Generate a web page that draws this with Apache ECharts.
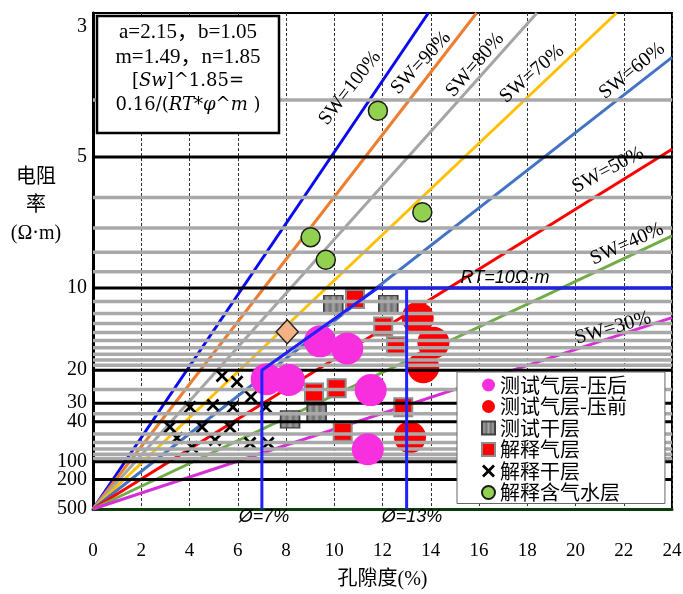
<!DOCTYPE html>
<html><head><meta charset="utf-8">
<script src="https://cdn.jsdelivr.net/npm/echarts@6/dist/echarts.min.js"></script>
<style>html,body{margin:0;padding:0;background:#fff}#c{width:683px;height:594px}</style>
</head><body><div id="c"></div>
<script>
// ---- data ----
const M = 1.49;                       // cementation exponent used for the axis scale
const yTicks = [3, 5, 10, 20, 30, 40, 100, 200, 500];
const majorRt = [5, 10, 20, 30, 40, 100, 200];
const minorRt = [4, 6, 7, 8, 9, 11, 12, 13, 14, 15, 16, 17, 18, 19, 25, 35, 50, 60, 70, 80, 90];

const swNames  = ['SW=100%', 'SW=90%', 'SW=80%', 'SW=70%', 'SW=60%', 'SW=50%', 'SW=40%', 'SW=30%'];
const swEndPhi = [13.9, 15.9, 18.4, 21.7, 24, 24, 24, 24];
const swEndRt  = [3, 3, 3, 3, 3.45, 4.84, 7.3, 12.4];

const cutoffPhi  = [7, 7, 11.8, 24];
const cutoffRt   = [500, 20, 10, 10];
const cutoff2Phi = [13, 13];
const cutoff2Rt  = [10, 500];

const magentaPhi = [9.41, 10.54, 7.2, 8.12, 11.51, 11.39];
const magentaRt  = [15.1, 16.1, 22.1, 22.3, 25.2, 70.3];
const redPhi = [13.46, 14.11, 13.69, 13.14];
const redRt  = [12.4, 15.3, 19.4, 53.5];
const grayPhi = [9.96, 12.24, 8.17, 9.27];
const grayRt  = [11.2, 11.2, 38.4, 34.8];
const redSqPhi = [10.86, 12.03, 12.56, 9.16, 10.1, 12.86, 10.35];
const redSqRt  = [10.8, 13.3, 15.8, 26.0, 24.6, 31.8, 47.8];
const crossPhi = [5.35, 5.97, 6.55, 4.02, 4.97, 5.80, 7.17, 3.19, 4.52, 5.68, 3.48, 5.06, 6.51, 7.26, 4.10];
const crossRt  = [21.3, 22.8, 27.5, 31.7, 30.8, 31.7, 31.7, 43.8, 43.8, 43.8, 54.3, 56.7, 60.6, 60.6, 66.5];
const greenPhi = [11.81, 13.65, 9.02, 9.65];
const greenRt  = [4.16, 6.45, 7.35, 8.37];
const diamondPhi = [8.05];
const diamondRt  = [13.9];

const legendNames = ['测试气层-压后', '测试气层-压前', '测试干层', '解释气层', '解释干层', '解释含气水层'];

// ---- helpers ----
const yv = r => (r >= 500 ? 0 : Math.pow(r, -1 / M));
const pts = (xs, rs) => xs.map((x, i) => [x, yv(rs[i])]);
const serif = "'Liberation Serif','Noto Sans CJK SC'";
const swColors = ['#0a0af0', '#ed7d31', '#a5a5a5', '#ffc000', '#4472c4', '#ff0000', '#70ad47', '#d62fd6'];

const series = [];
swNames.forEach((n, i) => {
  series.push({type: 'line', name: n, data: [[0, yv(500)], [swEndPhi[i], yv(swEndRt[i])]],
    symbol: 'none', silent: true, z: 2, lineStyle: {color: swColors[i], width: 3}});
});
series.push({type: 'scatter', name: legendNames[1], data: pts(redPhi, redRt), symbol: 'circle', symbolSize: 32, z: 3,
  itemStyle: {color: '#ff0000', opacity: 1}});
series.push({type: 'scatter', name: legendNames[2], data: pts(grayPhi, grayRt), symbol: 'rect', symbolSize: [19, 17], z: 3,
  itemStyle: {opacity: 1, color: {type: 'linear', x: 0, y: 0, x2: 1, y2: 0, colorStops: [
    {offset: 0, color: '#6a6a6a'}, {offset: 0.2, color: '#9a9a9a'}, {offset: 0.35, color: '#707070'},
    {offset: 0.5, color: '#a8a8a8'}, {offset: 0.65, color: '#707070'}, {offset: 0.8, color: '#9a9a9a'}, {offset: 1, color: '#6a6a6a'}]},
    borderColor: '#404040', borderWidth: 1.5}});
series.push({type: 'scatter', name: legendNames[3], data: pts(redSqPhi, redSqRt), symbol: 'rect', symbolSize: 18, z: 3,
  itemStyle: {color: '#ff0000', borderColor: '#8c8c8c', borderWidth: 2, opacity: 1}});
series.push({type: 'scatter', name: legendNames[4], data: pts(crossPhi, crossRt), z: 3,
  symbol: 'path://M1.5,0L5,3.5L8.5,0L10,1.5L6.5,5L10,8.5L8.5,10L5,6.5L1.5,10L0,8.5L3.5,5L0,1.5Z', symbolSize: 13,
  itemStyle: {color: '#000', opacity: 1}});
minorRt.forEach(r => series.push({type: 'line', data: [[0, yv(r)], [24, yv(r)]], symbol: 'none', silent: true, z: 4,
  lineStyle: {color: '#a9a9a9', width: 3.5}}));
majorRt.forEach(r => series.push({type: 'line', data: [[0, yv(r)], [24, yv(r)]], symbol: 'none', silent: true, z: 5,
  lineStyle: {color: '#000', width: 3}}));
series.push({type: 'scatter', name: legendNames[0], data: pts(magentaPhi, magentaRt), symbol: 'circle', symbolSize: 32, z: 6,
  itemStyle: {color: '#f82fdf', opacity: 1}});
series.push({type: 'scatter', name: legendNames[5], data: pts(greenPhi, greenRt), symbol: 'circle', symbolSize: 19, z: 6,
  itemStyle: {color: '#92d050', borderColor: '#1a1a1a', borderWidth: 1.5, opacity: 1}});
series.push({type: 'scatter', name: 'diamond', data: pts(diamondPhi, diamondRt), symbol: 'diamond', symbolSize: [22, 24], z: 6,
  itemStyle: {color: '#f4b183', borderColor: '#222', borderWidth: 1.5, opacity: 1}});
series.push({type: 'line', data: pts(cutoffPhi, cutoffRt), symbol: 'none', silent: true, z: 7, lineStyle: {color: '#2020ff', width: 3}});
series.push({type: 'line', data: pts(cutoff2Phi, cutoff2Rt), symbol: 'none', silent: true, z: 7, lineStyle: {color: '#2020ff', width: 3}});

// ---- text graphics ----
const txt = (text, x, y, o) => Object.assign({type: 'text', x, y, z: 50, silent: true,
  style: Object.assign({text, fill: '#000', fontSize: 20, fontFamily: serif,
    align: 'center', verticalAlign: 'middle', textAlign: 'center', textVerticalAlign: 'middle'}, o || {})});
const swLabelPos = [[350, 88, 52], [421, 63, 47], [475, 65, 49], [532, 74, 41], [632, 71, 39], [608, 170, 28], [627, 244, 24], [613, 328, 16]];
const graphic = [];
swNames.forEach((n, i) => {
  const g = txt(n, swLabelPos[i][0], swLabelPos[i][1]);
  g.rotation = swLabelPos[i][2] * Math.PI / 180;
  graphic.push(g);
});
graphic.push(txt('电阻\n率\n(Ω·m)', 36, 206, {lineHeight: 28}));
graphic.push(txt('RT=10Ω·m', 505, 278, {fontSize: 18, fontStyle: 'italic', fontFamily: "'Liberation Sans'"}));
graphic.push(txt('Ø=7%', 264, 517, {fontSize: 18, fontStyle: 'italic', fontFamily: "'Liberation Sans'"}));
graphic.push(txt('Ø=13%', 412, 517, {fontSize: 18, fontStyle: 'italic', fontFamily: "'Liberation Sans'"}));
const mathRich = {
  n: {fontSize: 18, fontFamily: "'DejaVu Serif'", fill: '#000', color: '#000'},
  i: {fontSize: 18, fontFamily: "'DejaVu Serif'", fontStyle: 'italic', fill: '#000', color: '#000'}
};
graphic.push({type: 'group', x: 97, y: 16, z: 60, children: [
  {type: 'rect', shape: {x: 0, y: 0, width: 182, height: 117}, style: {fill: '#fff', stroke: '#000', lineWidth: 2.5}, z: 60},
  Object.assign(txt('a=2.15，b=1.05', 91, 16, {fontSize: 21}), {z: 61}),
  Object.assign(txt('m=1.49，n=1.85', 91, 41, {fontSize: 21}), {z: 61}),
  Object.assign(txt('{n|[}{i|Sw}{n|]^1.85=}', 91, 65, {rich: mathRich}), {z: 61}),
  Object.assign(txt('{n|0.16/(}{i|RT}{n|*}{i|φ}{n|^}{i|m}{n| )}', 91, 89, {rich: mathRich}), {z: 61})
]});

const chart = echarts.init(document.getElementById('c'));
chart.setOption({
  animation: false,
  backgroundColor: '#fff',
  grid: {left: 93, right: 11, top: 13, bottom: 85, show: true, borderColor: '#000', borderWidth: 2,
    backgroundColor: 'transparent', containLabel: false, outerBoundsMode: 'none'},
  xAxis: {type: 'value', min: 0, max: 24, interval: 2,
    axisLine: {show: true, onZero: false, lineStyle: {color: '#0b3d0b', width: 3}},
    axisTick: {show: false},
    splitLine: {show: true, lineStyle: {color: '#333', width: 1, type: [3, 2]}},
    axisLabel: {color: '#000', fontSize: 19, fontFamily: serif, margin: 33},
    name: '孔隙度(%)', nameLocation: 'middle', nameGap: 61,
    nameTextStyle: {color: '#000', fontSize: 20, fontFamily: serif}},
  yAxis: {type: 'value', min: 0, max: yv(3),
    axisLine: {show: true, onZero: false, lineStyle: {color: '#000', width: 3}},
    axisTick: {show: false}, splitLine: {show: false},
    axisLabel: {customValues: yTicks.map(yv), color: '#000', fontSize: 20, fontFamily: serif, margin: 6,
      formatter: v => {
        const t = yTicks.find(t => Math.abs(yv(t) - v) < 1e-6);
        if (t === undefined) return '';
        return t === 3 ? '{top|3}' : String(t);
      },
      rich: {top: {padding: [28, 0, 0, 0], fontSize: 20, fontFamily: serif, color: '#000'}}}},
  legend: {data: legendNames, orient: 'vertical', left: 457, top: 372, itemWidth: 13, itemHeight: 13, itemGap: 1.5,
    padding: [3, 38, 1, 24], backgroundColor: '#fff', borderColor: '#666', borderWidth: 1, borderRadius: 0,
    textStyle: {fontSize: 20, lineHeight: 20, color: '#000', fontFamily: "'Noto Sans CJK SC'"}, z: 20, selectedMode: false},
  series,
  graphic
});
</script></body></html>
